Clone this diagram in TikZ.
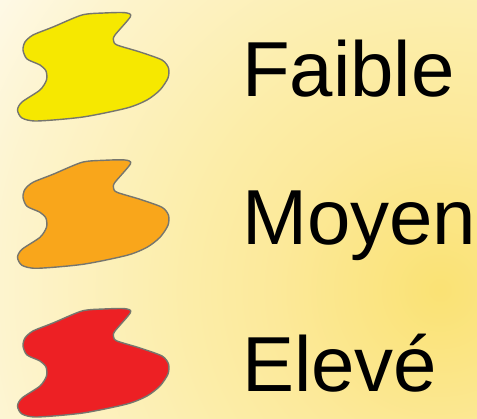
\documentclass[tikz,border=0pt]{standalone}
\usepackage{fontspec}
\setmainfont{Liberation Sans}
\definecolor{bgA}{HTML}{FAE274}
\definecolor{bgB}{HTML}{FCE99A}
\definecolor{bgC}{HTML}{FCEDA8}
\definecolor{bgD}{HTML}{FDF4CE}
\definecolor{bgE}{HTML}{FEF9E6}
\definecolor{blobY}{HTML}{F6E800}
\definecolor{blobO}{HTML}{F9A61B}
\definecolor{blobR}{HTML}{ED2024}
\definecolor{blobEdge}{HTML}{76766E}
\pgfdeclareradialshading{bgshade}{\pgfpoint{0bp}{0bp}}{color(0bp)=(bgA); color(7.2bp)=(bgB); color(10.9bp)=(bgC); color(19.1bp)=(bgD); color(22.9bp)=(bgE); color(50bp)=(bgE)}
\tikzset{
  blobstyle/.style={draw=blobEdge, line width=1.4pt, line join=round},
  label/.style={anchor=base west, inner sep=0pt, font=\fontsize{78}{78}\selectfont, text=black}
}
\newcommand{\myblob}[2]{%
  \draw[blobstyle, fill=#1, shift={(0,#2)}] plot[smooth cycle, tension=0.45] coordinates {
    (53,27) (82,15) (104,13) (125,12.7) (130.5,16.5) (115,35) (113.5,40.5) (117,45)
    (140,52) (162,60) (168.5,68) (168,78) (160,90) (147,100) (127,108) (83,117) (37,121)
    (22,118) (17.5,110) (22,102) (40,90) (46.5,80) (46,71) (40,65) (27,59) (23,50)
    (25,42) (33,35)};}
\begin{document}
\begin{tikzpicture}[x=1pt,y=-1pt]
\useasboundingbox (0,0) rectangle (477,419);
\begin{scope}
\clip (0,0) rectangle (477,419);
\shade[shading=bgshade] (440,290) circle (575);
\end{scope}
\myblob{blobY}{0}
\myblob{blobO}{147.3}
\myblob{blobR}{296}
\node[label] (faible) at (242,96.7) {Faible};
\node[label] (moyen) at (242,245) {Moyen};
\node[label] (eleve) at (242,392) {Elevé};
\end{tikzpicture}
\end{document}
